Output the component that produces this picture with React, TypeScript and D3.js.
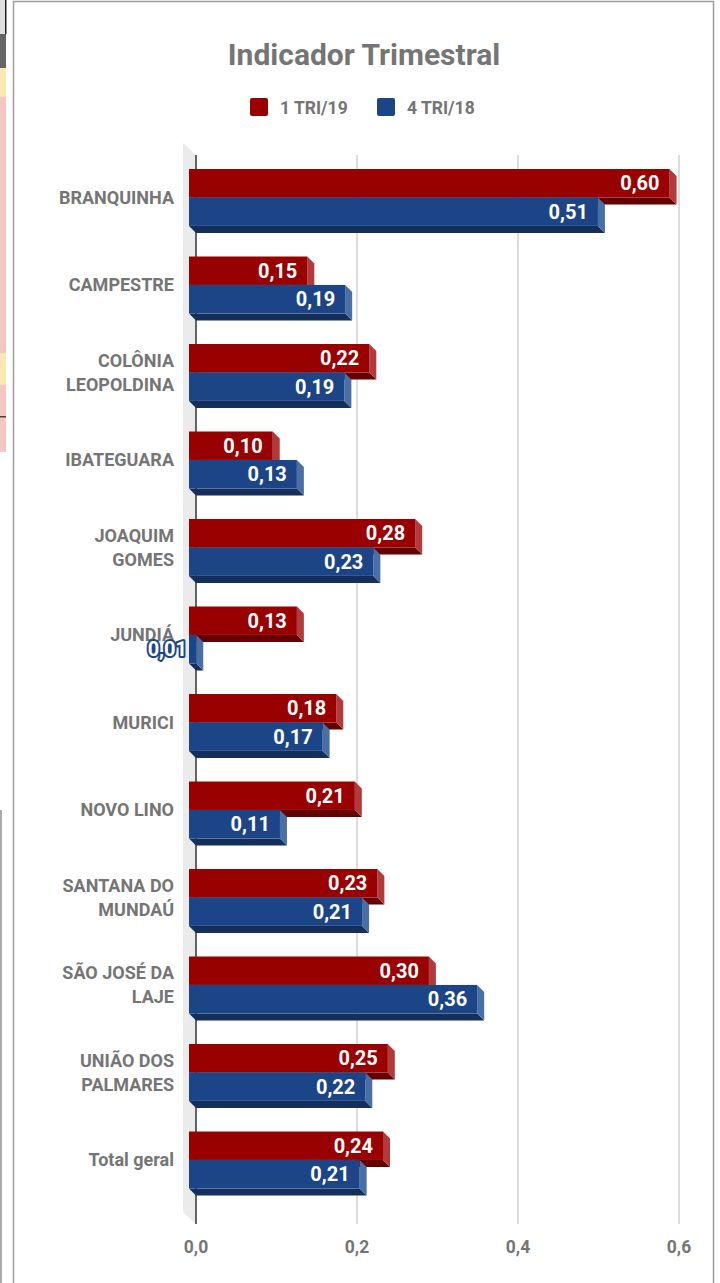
import React, { useEffect, useRef } from "react";
import * as d3 from "d3";

// values
const categories = [
  "BRANQUINHA",
  "CAMPESTRE",
  "COLÔNIA\nLEOPOLDINA",
  "IBATEGUARA",
  "JOAQUIM\nGOMES",
  "JUNDIÁ",
  "MURICI",
  "NOVO LINO",
  "SANTANA DO\nMUNDAÚ",
  "SÃO JOSÉ DA\nLAJE",
  "UNIÃO DOS\nPALMARES",
  "Total geral",
];
const tri119 = [0.597, 0.147, 0.224, 0.104, 0.281, 0.134, 0.183, 0.206, 0.234, 0.298, 0.247, 0.241];
const tri418 = [0.508, 0.194, 0.193, 0.134, 0.229, 0.009, 0.166, 0.113, 0.215, 0.358, 0.219, 0.212];
const seriesNames = ["1 TRI/19", "4 TRI/18"];
const xTicks = [0, 0.2, 0.4, 0.6];

const palette = [
  { front: "#990000", side: "#b33a3a", bottom: "#650000" },
  { front: "#1c4587", side: "#4a6ea6", bottom: "#142f5c" },
];

export default function App() {
  const ref = useRef<SVGSVGElement>(null);

  useEffect(() => {
    const svg = d3.select(ref.current);
    svg.selectAll("*").remove();
    const font = "Roboto, sans-serif";
    const grey = "#757575";
    const depth = 7;

    // stray spreadsheet bits on the left edge of the screenshot
    const strip = svg.append("g");
    strip.append("rect").attr("x", 0).attr("y", 0).attr("width", 6).attr("height", 34).attr("fill", "#e0e0e0");
    strip.append("rect").attr("x", 5).attr("y", 0).attr("width", 1.5).attr("height", 34).attr("fill", "#222");
    strip.append("rect").attr("x", 0).attr("y", 34).attr("width", 6).attr("height", 34).attr("fill", "#666");
    strip.append("rect").attr("x", 0).attr("y", 68).attr("width", 6).attr("height", 29).attr("fill", "#fde8b4");
    strip.append("rect").attr("x", 0).attr("y", 97).attr("width", 6).attr("height", 256).attr("fill", "#f4c7c3");
    strip.append("rect").attr("x", 0).attr("y", 353).attr("width", 6).attr("height", 32).attr("fill", "#fde8b4");
    strip.append("rect").attr("x", 0).attr("y", 385).attr("width", 6).attr("height", 67).attr("fill", "#f4c7c3");
    strip.append("rect").attr("x", 0).attr("y", 416).attr("width", 6).attr("height", 1.5).attr("fill", "#444");
    strip.append("rect").attr("x", 0).attr("y", 810).attr("width", 2).attr("height", 480).attr("fill", "#aaa");

    // chart frame
    svg.append("rect").attr("x", 13.5).attr("y", 1.5).attr("width", 700).attr("height", 1300)
      .attr("fill", "#fff").attr("stroke", "#9e9e9e").attr("stroke-width", 1.5);

    const xScale = d3.scaleLinear().domain([0, 0.6]).range([196, 679]);
    const yScale = d3.scaleBand().domain(categories).range([160.7, 1210.7]).paddingInner(0.35).paddingOuter(0.175);
    const barH = yScale.bandwidth() / 2;
    const top = 155, bottom = 1224;
    const x0 = xScale(0);

    // title
    svg.append("text").text("Indicador Trimestral").attr("x", 364).attr("y", 65)
      .attr("text-anchor", "middle").attr("font-family", font).attr("font-weight", 700)
      .attr("font-size", 30).attr("fill", grey);

    // legend
    const legendX = [250, 377];
    seriesNames.forEach((name, i) => {
      svg.append("rect").attr("x", legendX[i]).attr("y", 98).attr("width", 18).attr("height", 18)
        .attr("rx", 2).attr("fill", palette[i].front);
      svg.append("text").text(name).attr("x", legendX[i] + 30).attr("y", 114)
        .attr("font-family", font).attr("font-weight", 700).attr("font-size", 17.5).attr("fill", grey);
    });

    // side wall behind the axis
    svg.append("polygon")
      .attr("points", [[x0 - 13, top - 12], [x0, top], [x0, bottom], [x0 - 13, bottom - 12]].map(p => p.join(",")).join(" "))
      .attr("fill", "#ebebeb");

    // grid
    svg.append("g").selectAll("line").data(xTicks.filter(t => t > 0)).join("line")
      .attr("x1", d => xScale(d)).attr("x2", d => xScale(d)).attr("y1", top).attr("y2", bottom)
      .attr("stroke", "#d0d0d0").attr("stroke-width", 1.5);
    svg.append("line").attr("x1", x0).attr("x2", x0).attr("y1", top).attr("y2", bottom)
      .attr("stroke", "#333").attr("stroke-width", 1.5);

    // x tick labels
    const fmtTick = (v: number) => d3.format(".1f")(v).replace(".", ",");
    svg.append("g").selectAll("text").data(xTicks).join("text")
      .text(d => fmtTick(d)).attr("x", d => xScale(d)).attr("y", 1253).attr("text-anchor", "middle")
      .attr("font-family", font).attr("font-weight", 700).attr("font-size", 17.5).attr("fill", grey);

    // category labels
    categories.forEach(cat => {
      const lines = cat.split("\n");
      const cy = (yScale(cat) as number) + barH - depth;
      const t = svg.append("text").attr("text-anchor", "end").attr("font-family", font)
        .attr("font-weight", 700).attr("font-size", 18).attr("fill", grey);
      lines.forEach((ln, j) => {
        t.append("tspan").text(ln).attr("x", 174)
          .attr("y", cy + (j - (lines.length - 1) / 2) * 24).attr("dy", "0.36em");
      });
    });

    // 3D bars
    const fmtVal = (v: number) => d3.format(".2f")(v).replace(".", ",");
    const series = [tri119, tri418];
    const bars = svg.append("g");
    categories.forEach((cat, i) => {
      series.forEach((vals, s) => {
        const v = vals[i];
        const c = palette[s];
        const y0 = (yScale(cat) as number) + s * barH;
        const x1 = xScale(v);
        const g = bars.append("g");
        const pts = (arr: number[][]) => arr.map(p => p.join(",")).join(" ");
        g.append("polygon").attr("fill", c.bottom)
          .attr("points", pts([[x0 - depth, y0 + barH - depth], [x1 - depth, y0 + barH - depth], [x1, y0 + barH], [x0, y0 + barH]]));
        g.append("polygon").attr("fill", c.side)
          .attr("points", pts([[x1 - depth, y0 - depth], [x1, y0], [x1, y0 + barH], [x1 - depth, y0 + barH - depth]]));
        g.append("rect").attr("fill", c.front)
          .attr("x", x0 - depth).attr("y", y0 - depth).attr("width", x1 - x0).attr("height", barH);

        const label = g.append("text").text(fmtVal(v)).attr("y", y0 - depth + barH / 2).attr("dy", "0.36em")
          .attr("text-anchor", "end").attr("font-family", font).attr("font-weight", 700)
          .attr("font-size", 20).attr("fill", "#fff");
        if (x1 - x0 > 50) {
          label.attr("x", x1 - depth - 10);
        } else {
          label.attr("x", x0 - depth - 2).attr("stroke", c.front).attr("stroke-width", 4)
            .attr("stroke-linejoin", "round").attr("paint-order", "stroke");
        }
      });
    });
  }, []);

  return <svg ref={ref} width={720} height={1283} style={{ position: "absolute", left: 0, top: 0, background: "#fff" }} />;
}
